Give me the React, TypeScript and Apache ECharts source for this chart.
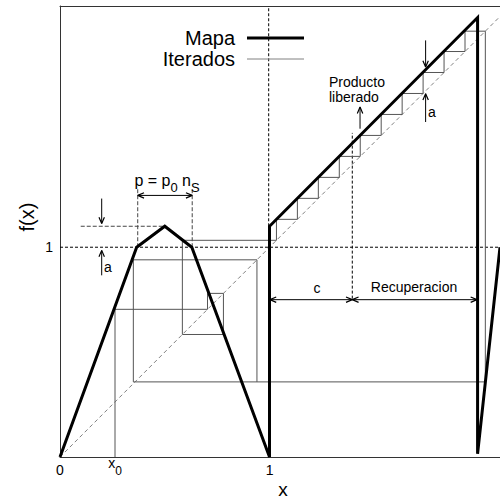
import React, { useEffect, useRef } from 'react';
import * as echarts from 'echarts';

const FONT = '"Liberation Sans", Arial, Helvetica, sans-serif';

// Map f(x) breakpoints
const mapX = [0, 0.366, 0.5, 0.629, 1.0, 1.0, 1.993, 1.993, 2.1];
const mapY = [0, 1.0, 1.1, 1.0, 0, 1.1, 2.095, 0.015, 1.0];

// Iterates (cobweb path)
const iterX = [0.2625, 0.2625, 0.704, 0.704, 0.78, 0.78, 0.584, 0.584, 1.033, 1.033, 1.133, 1.133, 1.233, 1.233, 1.333, 1.333, 1.433, 1.433, 1.533, 1.533, 1.633, 1.633, 1.733, 1.733, 1.833, 1.833, 1.933, 1.933, 2.03, 2.03, 0.35, 0.35, 0.94, 0.94];
const iterY = [0, 0.704, 0.704, 0.78, 0.78, 0.584, 0.584, 1.033, 1.033, 1.133, 1.133, 1.233, 1.233, 1.333, 1.333, 1.433, 1.433, 1.533, 1.533, 1.633, 1.633, 1.733, 1.733, 1.833, 1.833, 1.933, 1.933, 2.03, 2.03, 0.358, 0.358, 0.94, 0.94, 0.358];

// Identity line
const diagX = [0, 2.1];
const diagY = [0, 2.1];

// Axis ticks
const x0 = 0.2625;
const xTicks = [0, x0, 1, 2];
const xTickLabels = ['{n|0}', '{x|x}{s|0}', '{n|1}', '{n|2}'];
const yTicks = [1];

// Annotation geometry (data coords)
const dashedBlack: number[][][] = [
  [[0, 1], [2.095, 1]],
  [[0.996, 1.1], [0.996, 2.15]],
  [[1.395, 0.755], [1.395, 1.545]],
];
const dashedGray: number[][][] = [
  [[0.371, 1.0], [0.371, 1.281]],
  [[0.631, 1.0], [0.631, 1.281]],
  [[0.099, 1.1], [0.5, 1.1]],
];
const arrows = [
  { from: [0.371, 1.247], to: [0.631, 1.247], both: true },
  { from: [0.199, 1.232], to: [0.199, 1.113], both: false },
  { from: [0.199, 0.866], to: [0.199, 0.985], both: false },
  { from: [1.745, 1.986], to: [1.745, 1.859], both: false },
  { from: [1.745, 1.597], to: [1.745, 1.732], both: false },
  { from: [1.432, 1.565], to: [1.432, 1.668], both: false },
  { from: [1.002, 0.75], to: [1.395, 0.75], both: true },
  { from: [1.395, 0.75], to: [1.99, 0.75], both: true },
];

function head(tip: number[], tail: number[]): number[][] {
  const L = 0.03, W = 0.013;
  const dx = tip[0] - tail[0], dy = tip[1] - tail[1];
  const len = Math.hypot(dx, dy);
  const ux = dx / len, uy = dy / len;
  const px = -uy, py = ux;
  return [
    [tip[0] - L * ux + W * px, tip[1] - L * uy + W * py],
    tip,
    [tip[0] - L * ux - W * px, tip[1] - L * uy - W * py],
  ];
}

function seg(data: number[][], color: string, width: number, type: any, z = 2) {
  return {
    type: 'line', data, symbol: 'none', silent: true, animation: false, z,
    lineStyle: { color, width, type },
  };
}

export default function App() {
  const ref = useRef<HTMLDivElement>(null);
  useEffect(() => {
    if (!ref.current) return;
    const chart = echarts.init(ref.current, undefined, { renderer: 'svg' });
    const series: any[] = [];
    series.push(seg(diagX.map((x, i) => [x, diagY[i]]), '#808080', 1, [4, 3], 1));
    dashedBlack.forEach((d) => series.push(seg(d, '#000', 1, [3, 2], 2)));
    dashedGray.forEach((d) => series.push(seg(d, '#444', 1, [4, 2], 2)));
    arrows.forEach((a) => {
      series.push(seg([a.from, a.to], '#000', 1, 'solid', 3));
      series.push(seg(head(a.to, a.from), '#000', 1.2, 'solid', 3));
      if (a.both) series.push(seg(head(a.from, a.to), '#000', 1.2, 'solid', 3));
    });
    series.push({
      name: 'Iterados', type: 'line', symbol: 'none', silent: true, z: 4,
      data: iterX.map((x, i) => [x, iterY[i]]),
      lineStyle: { color: '#555', width: 1 },
    });
    series.push({
      name: 'Mapa', type: 'line', symbol: 'none', silent: true, z: 5,
      data: mapX.map((x, i) => [x, mapY[i]]),
      lineStyle: { color: '#000', width: 3, join: 'miter' },
    });

    const txt = (text: string, x: number, y: number, size: number, align = 'center', extra: any = {}) => ({
      type: 'text', x, y, z: 10,
      style: { text, fontSize: size, fontFamily: FONT, fill: '#000', align, verticalAlign: 'middle', ...extra },
    });

    chart.setOption({
      animation: false,
      backgroundColor: '#fff',
      grid: { left: 60, right: 0, top: 6, bottom: 44 },
      xAxis: [
        {
          type: 'value', min: 0, max: 2.1, interval: 1,
          axisLine: { show: true, lineStyle: { color: '#333', width: 1 } },
          axisTick: { show: false },
          splitLine: { show: false },
          axisLabel: {
            customValues: xTicks,
            margin: 2,
            showMaxLabel: false,
            formatter: (v: number) => {
              const i = xTicks.findIndex((t) => Math.abs(t - v) < 1e-6);
              return i >= 0 ? xTickLabels[i] : '';
            },
            rich: {
              n: { fontSize: 14, fontFamily: FONT, color: '#000', lineHeight: 14, padding: [7, 0, 0, 0] },
              x: { fontSize: 14, fontFamily: FONT, color: '#000', lineHeight: 14, padding: [0, 0, 7, 0] },
              s: { fontSize: 12, fontFamily: FONT, color: '#000', lineHeight: 12, padding: [9, 0, 0, 0] },
            },
          },
        },
        {
          type: 'value', min: 0, max: 2.1, position: 'top',
          axisLine: { show: true, lineStyle: { color: '#333', width: 1 } },
          axisTick: { show: false }, axisLabel: { show: false }, splitLine: { show: false },
        },
      ],
      yAxis: {
        type: 'value', min: 0, max: 2.15, interval: 1,
        axisLine: { show: true, lineStyle: { color: '#333', width: 1 } },
        axisTick: { show: false },
        splitLine: { show: false },
        axisLabel: {
          margin: 7, fontSize: 14, fontFamily: FONT, color: '#000',
          showMaxLabel: false,
          formatter: (v: number) => (yTicks.some((t) => Math.abs(t - v) < 1e-6) ? String(v) : ''),
        },
      },
      series,
      graphic: [
        txt('Mapa', 235, 38, 20, 'right'),
        txt('Iterados', 235, 59, 20, 'right'),
        { type: 'line', z: 10, shape: { x1: 247, y1: 38, x2: 304, y2: 38 }, style: { stroke: '#000', lineWidth: 3 } },
        { type: 'line', z: 10, shape: { x1: 247, y1: 59, x2: 304, y2: 59 }, style: { stroke: '#808080', lineWidth: 1 } },
        {
          type: 'text', x: 167, y: 183, z: 10,
          style: {
            text: '{m|p = p}{s|0}{m| n}{s|S}', align: 'center', verticalAlign: 'middle',
            rich: {
              m: { fontSize: 16, fontFamily: FONT, fill: '#000', lineHeight: 16, padding: [0, 0, 5, 0] },
              s: { fontSize: 13, fontFamily: FONT, fill: '#000', lineHeight: 13, padding: [8, 0, 0, 0] },
            },
          },
        },
        txt('a', 104, 267, 14, 'left'),
        txt('a', 428, 112, 14, 'left'),
        txt('Producto\nliberado', 329, 89, 14, 'left', { lineHeight: 15 }),
        txt('c', 317, 288, 14, 'center'),
        txt('Recuperacion', 414, 287, 14, 'center'),
        txt('x', 283, 489, 19, 'center', { lineHeight: 19 }),
        { ...txt('f(x)', 27, 217, 20, 'center'), rotation: Math.PI / 2 },
      ],
    });
    return () => chart.dispose();
  }, []);
  return <div ref={ref} style={{ position: 'absolute', left: 0, top: 0, width: 500, height: 501 }} />;
}
